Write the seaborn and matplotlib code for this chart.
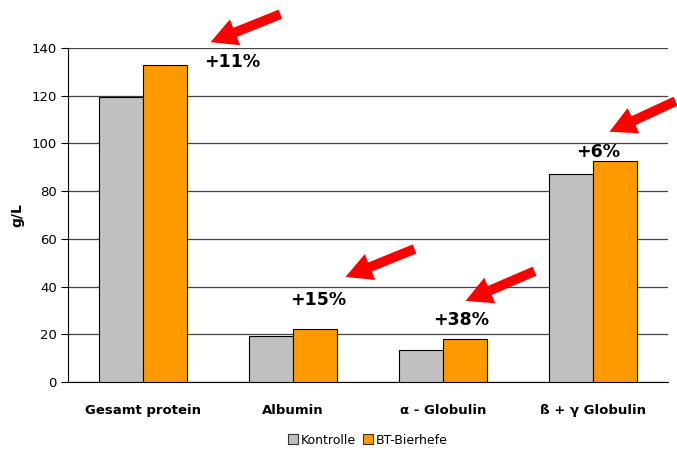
import pandas as pd
import matplotlib.pyplot as plt
import seaborn as sns

categories = ['Gesamt protein', 'Albumin', 'α - Globulin', 'ß + γ Globulin']
kontrolle = [119.5, 19.3, 13.4, 87.2]
bierhefe = [133.0, 22.2, 18.0, 92.6]
series = ['Kontrolle', 'BT-Bierhefe']
increase_labels = ['+11%', '+15%', '+38%', '+6%']
y_ticks = [0, 20, 40, 60, 80, 100, 120, 140]


def build_frame():
    rows = []
    for cat, k, b in zip(categories, kontrolle, bierhefe):
        rows.append({'cat': cat, 'series': series[0], 'value': k})
        rows.append({'cat': cat, 'series': series[1], 'value': b})
    return pd.DataFrame(rows)


def plot_chart(df):
    sns.set_style('white')
    plt.rcParams['font.family'] = ['DejaVu Sans']
    for key in ['text.color', 'axes.labelcolor', 'xtick.color', 'ytick.color']:
        plt.rcParams[key] = 'black'
    fig = plt.figure(figsize=(6.77, 4.5), dpi=100)
    ax = fig.add_axes([68 / 677, 1 - 382 / 450, 600 / 677, 334 / 450])

    sns.barplot(data=df, x='cat', y='value', hue='series', order=categories,
                hue_order=series, palette=['#C0C0C0', '#FF9900'], width=0.59,
                saturation=1, edgecolor='black', linewidth=0.8, ax=ax, zorder=3)

    ax.set_ylim(0, 140)
    ax.set_xlim(-0.5, 3.5)
    ax.set_yticks(y_ticks)
    ax.yaxis.grid(True, color='#444444', linewidth=0.9)
    ax.set_axisbelow(True)
    for s in ['top', 'right']:
        ax.spines[s].set_visible(False)
    ax.spines['left'].set_color('black')
    ax.spines['bottom'].set_color('black')
    ax.tick_params(axis='y', left=True, length=5, width=0.8, labelsize=9.5, pad=3)
    ax.tick_params(axis='x', bottom=False, labelsize=9.5, pad=12)
    for lbl in ax.get_xticklabels():
        lbl.set_fontweight('bold')
    ax.set_xlabel('')
    ax.set_ylabel('g/L', fontweight='bold', fontsize=10, labelpad=5)

    # percentage labels and arrows
    text_pos = [(0.593, 134.1), (1.167, 34.4), (2.12, 26.0), (3.033, 96.4)]
    arrows = [((0.433, 142.0), (0.933, 154.6)),
              ((3.093, 104.4), (3.567, 118.2)),
              ((1.333, 43.6), (1.827, 56.2)),
              ((2.133, 33.5), (2.627, 46.9))]
    for lbl, (x, y) in zip(increase_labels, text_pos):
        ax.text(x, y, lbl, ha='center', va='center', fontsize=12.5,
                fontweight='bold', zorder=5)
    for tip, tail in arrows:
        ax.annotate('', xy=tip, xytext=tail, annotation_clip=False,
                    arrowprops=dict(arrowstyle='simple,head_length=1.9,head_width=2.0,tail_width=0.7',
                                    color='#FF0000', lw=0), zorder=6)

    leg = ax.legend(loc='center', bbox_to_anchor=(0.5, -0.174), ncol=2,
                    frameon=False, fontsize=9, handlelength=0.8, handleheight=0.8,
                    handletextpad=0.2, columnspacing=0.6)
    for h in leg.legend_handles:
        h.set_edgecolor('#333333')
        h.set_linewidth(0.8)

    fig.savefig('out.png', dpi=100)


def main():
    df = build_frame()
    plot_chart(df)


if __name__ == "__main__":
    main()
